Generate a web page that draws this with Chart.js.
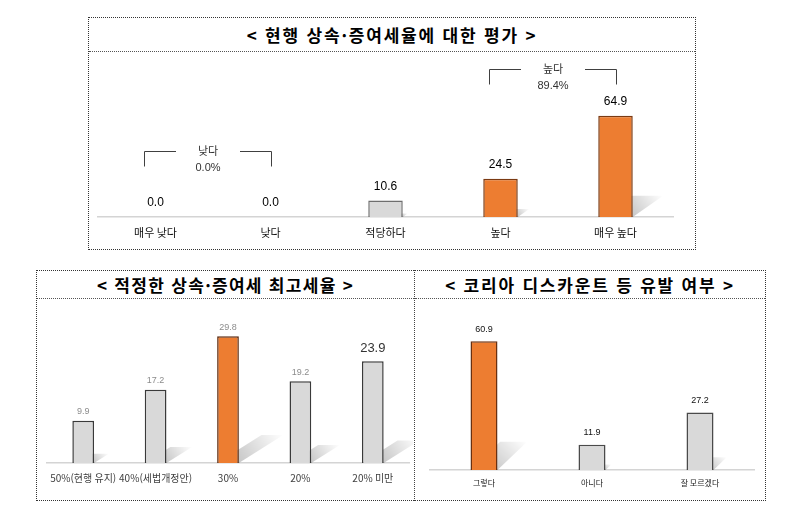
<!DOCTYPE html>
<html lang="ko">
<head>
<meta charset="utf-8">
<script src="https://cdn.jsdelivr.net/npm/chart.js@4"></script>
<style>
  body { margin: 0; background: #fff; width: 786px; height: 526px; position: relative; overflow: hidden; }
  .box { position: absolute; border: 1px dotted #333; box-sizing: border-box; }
  .vline { position: absolute; border-left: 1px dotted #444; }
  .title { position: absolute; border-bottom: 1px dotted #555; text-align: center;
           font-family: "Noto Sans CJK KR", sans-serif; font-weight: bold; color: #000; white-space: pre; }
  canvas { position: absolute; }
</style>
</head>
<body>
<div class="box" style="left:88px;top:17px;width:608px;height:233px"></div>
<div class="title" style="left:89px;top:18px;width:606px;height:33px;line-height:33px;font-size:17px;letter-spacing:1.8px">&lt; 현행 상속·증여세율에 대한 평가 &gt;</div>
<div style="position:absolute;left:89px;top:52px;width:606px;height:197px"><canvas id="evalChart"></canvas></div>

<div class="box" style="left:36px;top:270px;width:730px;height:231px"></div>
<div class="vline" style="left:414px;top:270px;height:231px"></div>
<div class="title" style="left:37px;top:271px;width:377px;height:27px;line-height:27px;font-size:17px;letter-spacing:1.3px">&lt; 적정한 상속·증여세 최고세율 &gt;</div>
<div class="title" style="left:415px;top:271px;width:350px;height:27px;line-height:27px;font-size:17px;letter-spacing:1.8px">&lt; 코리아 디스카운트 등 유발 여부 &gt;</div>
<div style="position:absolute;left:37px;top:299px;width:376px;height:200px"><canvas id="rateChart"></canvas></div>
<div style="position:absolute;left:416px;top:299px;width:349px;height:200px"><canvas id="discountChart"></canvas></div>

<script>
// 현행 상속·증여세율에 대한 평가
const evalLabels = ['매우 낮다', '낮다', '적당하다', '높다', '매우 높다'];
const evalValues = [0.0, 0.0, 10.6, 24.5, 64.9];
const evalHighlight = [3, 4];
const groupNames = ['낮다', '높다'];
const groupRanges = [[0, 1], [3, 4]];

// 적정한 상속·증여세 최고세율
const rateLabels = ['50%(현행 유지)', '40%(세법개정안)', '30%', '20%', '20% 미만'];
const rateValues = [9.9, 17.2, 29.8, 19.2, 23.9];
const rateHighlight = [2];

// 코리아 디스카운트 등 유발 여부
const discountLabels = ['그렇다', '아니다', '잘 모르겠다'];
const discountValues = [60.9, 11.9, 27.2];
const discountHighlight = [0];

const ORANGE = '#ED7D31';
const GRAY = '#D9D9D9';
const NUM_FONT = '"Liberation Sans", "Noto Sans CJK KR", sans-serif';
const KO_FONT = '"Noto Sans CJK KR", sans-serif';

// 막대 뒤 그림자 (엑셀 원근 그림자 흉내)
const barShadow = {
  id: 'barShadow',
  beforeDatasetsDraw(chart, args, opts) {
    const ctx = chart.ctx;
    chart.getDatasetMeta(0).data.forEach(bar => {
      const h = bar.base - bar.y;
      if (h <= 0) return;
      const left = bar.x - bar.width / 2, right = bar.x + bar.width / 2;
      const dx = h * opts.k, dy = h * opts.m;
      const g = ctx.createLinearGradient(right, bar.base, right + dx, bar.base - dy);
      g.addColorStop(0, 'rgba(0,0,0,' + opts.alpha + ')');
      g.addColorStop(1, 'rgba(0,0,0,0)');
      ctx.save();
      ctx.fillStyle = g;
      ctx.beginPath();
      ctx.moveTo(left, bar.base);
      ctx.lineTo(right, bar.base);
      ctx.lineTo(right + dx, bar.base - dy);
      ctx.lineTo(left + dx, bar.base - dy);
      ctx.closePath();
      ctx.fill();
      ctx.restore();
    });
  }
};

// 막대 위 값 표시
const valueLabels = {
  id: 'valueLabels',
  afterDatasetsDraw(chart, args, opts) {
    const ctx = chart.ctx;
    const data = chart.data.datasets[0].data;
    ctx.save();
    ctx.textAlign = 'center';
    ctx.textBaseline = 'middle';
    chart.getDatasetMeta(0).data.forEach((bar, i) => {
      const big = opts.bigIndex === i;
      ctx.font = big ? opts.bigFont : opts.font;
      ctx.fillStyle = big ? opts.bigColor : opts.color;
      ctx.fillText(data[i].toFixed(1), bar.x, bar.y - (big ? opts.bigOffset : opts.offset));
    });
    ctx.restore();
  }
};

// 낮다/높다 묶음 괄호
const brackets = {
  id: 'brackets',
  afterDraw(chart, args, opts) {
    if (!opts.names) return;
    const ctx = chart.ctx, x = chart.scales.x;
    const data = chart.data.datasets[0].data;
    ctx.save();
    ctx.strokeStyle = '#404040';
    ctx.lineWidth = 1;
    ctx.fillStyle = '#333';
    ctx.font = opts.font;
    ctx.textAlign = 'center';
    ctx.textBaseline = 'middle';
    opts.names.forEach((name, i) => {
      const [a, b] = opts.ranges[i];
      const x0 = Math.round(x.getPixelForValue(a) - 12) + 0.5;
      const x1 = Math.round(x.getPixelForValue(b)) + 0.5;
      const y = opts.ys[i] + 0.5;
      const mid = (x0 + x1) / 2;
      let total = 0;
      for (let k = a; k <= b; k++) total += data[k];
      ctx.beginPath();
      ctx.moveTo(x0, y + 15); ctx.lineTo(x0, y); ctx.lineTo(mid - 32, y);
      ctx.moveTo(mid + 32, y); ctx.lineTo(x1, y); ctx.lineTo(x1, y + 15);
      ctx.stroke();
      ctx.fillText(name, mid, y);
      ctx.fillText(total.toFixed(1) + '%', mid, y + 16);
    });
    ctx.restore();
  }
};

function makeChart(id, labels, values, highlight, cfg) {
  return new Chart(document.getElementById(id), {
    type: 'bar',
    data: {
      labels,
      datasets: [{
        data: values,
        backgroundColor: values.map((v, i) => v === 0 ? 'rgba(0,0,0,0)' : highlight.includes(i) ? ORANGE : GRAY),
        borderColor: values.map((v, i) => v === 0 ? 'rgba(0,0,0,0)' : highlight.includes(i) ? cfg.orangeBorder : cfg.grayBorder),
        borderWidth: 1.5,
        borderSkipped: 'bottom',
        categoryPercentage: 1,
        barPercentage: cfg.barPct
      }]
    },
    options: {
      responsive: true,
      maintainAspectRatio: false,
      animation: false,
      layout: { padding: cfg.padding },
      plugins: {
        legend: { display: false },
        tooltip: { enabled: false },
        barShadow: cfg.shadow,
        valueLabels: cfg.values,
        brackets: cfg.brackets || {}
      },
      scales: {
        y: { display: false, min: 0, max: cfg.max },
        x: {
          afterFit: s => { s.height = cfg.axisHeight; },
          grid: { display: false, drawTicks: false },
          border: { color: '#D4D4D4', width: 1.5 },
          ticks: { padding: cfg.tickPad, color: cfg.tickColor, autoSkip: false, maxRotation: 0,
                   font: { family: KO_FONT, size: cfg.tickSize } }
        }
      }
    },
    plugins: [barShadow, valueLabels, brackets]
  });
}

makeChart('evalChart', evalLabels, evalValues, evalHighlight, {
  barPct: 0.30, max: 100, axisHeight: 32, tickPad: 9, tickSize: 11, tickColor: '#111',
  padding: { left: 9, right: 22, top: 9, bottom: 0 },
  orangeBorder: '#7A3A12', grayBorder: '#6E6E6E',
  shadow: { k: 0.3, m: 0.21, alpha: 0.22 },
  values: { font: '12px ' + NUM_FONT, color: '#000', offset: 14 },
  brackets: { names: groupNames, ranges: groupRanges, ys: [99, 17], font: '11px ' + NUM_FONT }
});

makeChart('rateChart', rateLabels, rateValues, rateHighlight, {
  barPct: 0.30, max: 35, axisHeight: 36, tickPad: 9, tickSize: 10, tickColor: '#404040',
  padding: { left: 10, right: 4, top: 15, bottom: 0 },
  orangeBorder: '#5A2A10', grayBorder: '#3A3A3A',
  shadow: { k: 0.35, m: 0.22, alpha: 0.22 },
  values: { font: '9px ' + NUM_FONT, color: '#8C8C8C', offset: 9,
            bigIndex: 4, bigFont: '13px ' + NUM_FONT, bigColor: '#333', bigOffset: 13 }
});

makeChart('discountChart', discountLabels, discountValues, discountHighlight, {
  barPct: 0.25, max: 70, axisHeight: 29, tickPad: 8, tickSize: 8, tickColor: '#222',
  padding: { left: 14, right: 11, top: 23, bottom: 0 },
  orangeBorder: '#6A3010', grayBorder: '#4A4A4A',
  shadow: { k: 0.23, m: 0.22, alpha: 0.2 },
  values: { font: '9px "Liberation Sans Narrow", ' + NUM_FONT, color: '#111', offset: 12 }
});
</script>
</body>
</html>
